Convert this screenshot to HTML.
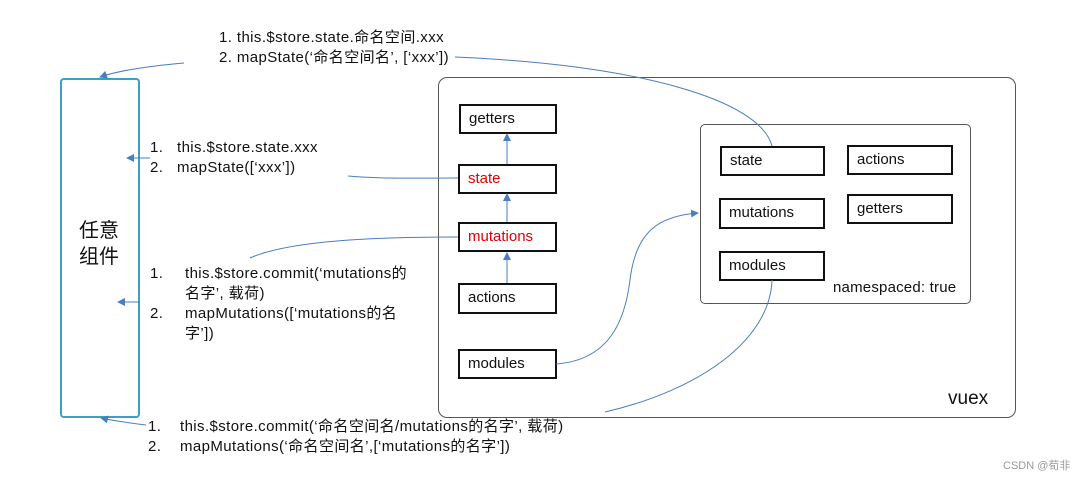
<!DOCTYPE html>
<html><head><meta charset="utf-8"><style>
body{margin:0;width:1087px;height:481px;background:#fff;overflow:hidden;position:relative;font-family:"Liberation Sans","Noto Sans CJK SC",sans-serif;color:#111}
.t{position:absolute;font-size:15px;letter-spacing:0.4px;white-space:nowrap;line-height:20px}
.b{position:absolute;border:2px solid #111;box-sizing:border-box;font-size:15px;padding-left:8px;line-height:25px}
.r{color:#e00000}
</style></head><body>
<div style="position:absolute;left:60px;top:78px;width:80px;height:340px;border:2.5px solid #3aa0c8;border-radius:4px;box-sizing:border-box"></div>
<div style="position:absolute;left:79px;top:218px;font-size:20px;line-height:26px">任意<br>组件</div>
<div style="position:absolute;left:438px;top:77px;width:578px;height:341px;border:1.3px solid #555;border-radius:9px;box-sizing:border-box"></div>
<div style="position:absolute;left:700px;top:124px;width:271px;height:180px;border:1.3px solid #555;border-radius:5px;box-sizing:border-box"></div>
<div class="b" style="left:459px;top:104px;width:98px;height:30px">getters</div>
<div class="b r" style="left:458px;top:164px;width:99px;height:30px;border-color:#111">state</div>
<div class="b r" style="left:458px;top:222px;width:99px;height:30px;border-color:#111">mutations</div>
<div class="b" style="left:458px;top:283px;width:99px;height:31px">actions</div>
<div class="b" style="left:458px;top:349px;width:99px;height:30px">modules</div>
<div class="b" style="left:720px;top:146px;width:105px;height:30px">state</div>
<div class="b" style="left:847px;top:145px;width:106px;height:30px">actions</div>
<div class="b" style="left:719px;top:198px;width:106px;height:31px">mutations</div>
<div class="b" style="left:847px;top:194px;width:106px;height:30px">getters</div>
<div class="b" style="left:719px;top:251px;width:106px;height:30px">modules</div>
<div class="t" style="left:833px;top:278px;letter-spacing:0.2px">namespaced: true</div>
<div class="t" style="left:948px;top:389px;font-size:19px;letter-spacing:0">vuex</div>
<div class="t" style="left:1003px;top:456px;font-size:11px;letter-spacing:0;color:#999">CSDN @荀非</div>
<div class="t" style="left:219px;top:28px">1. this.$store.state.命名空间.xxx</div>
<div class="t" style="left:219px;top:48px">2. mapState(‘命名空间名’, [‘xxx’])</div>
<div class="t" style="left:150px;top:138px">1.</div><div class="t" style="left:177px;top:138px">this.$store.state.xxx</div>
<div class="t" style="left:150px;top:158px">2.</div><div class="t" style="left:177px;top:158px">mapState([‘xxx’])</div>
<div class="t" style="left:150px;top:264px">1.</div><div class="t" style="left:185px;top:264px">this.$store.commit(‘mutations的<br>名字’, 载荷)</div>
<div class="t" style="left:150px;top:304px">2.</div><div class="t" style="left:185px;top:304px">mapMutations([‘mutations的名<br>字’])</div>
<div class="t" style="left:148px;top:417px">1.</div><div class="t" style="left:180px;top:417px">this.$store.commit(‘命名空间名/mutations的名字’, 载荷)</div>
<div class="t" style="left:148px;top:437px">2.</div><div class="t" style="left:180px;top:437px">mapMutations(‘命名空间名’,[‘mutations的名字’])</div>
<svg width="1087" height="481" style="position:absolute;left:0;top:0">
<defs><marker id="a" markerWidth="8" markerHeight="8" refX="7" refY="4" orient="auto" markerUnits="userSpaceOnUse"><path d="M0,0L8,4L0,8z" fill="#4a7ec0"/></marker></defs>
<g stroke="#4a7ec0" stroke-width="1" fill="none">
<path d="M772,146 C760,100 640,65 455,57"/>
<path d="M184,63 C150,66 120,70 100,77" marker-end="url(#a)"/>
<path d="M150,158 L127,158" marker-end="url(#a)"/>
<path d="M348,176 C380,179 420,178 458,178"/>
<path d="M458,237 C380,237 290,240 250,258"/>
<path d="M140,302 L118,302" marker-end="url(#a)"/>
<path d="M146,425 C130,423 115,421 101,418" marker-end="url(#a)"/>
<path d="M556,364 C610,360 625,320 630,280 C636,230 660,216 698,213" marker-end="url(#a)"/>
<path d="M772,280 C770,340 700,390 605,412"/>
<path d="M507,164 L507,134" marker-end="url(#a)"/>
<path d="M507,222 L507,194" marker-end="url(#a)"/>
<path d="M507,283 L507,253" marker-end="url(#a)"/>
</g></svg>
</body></html>
